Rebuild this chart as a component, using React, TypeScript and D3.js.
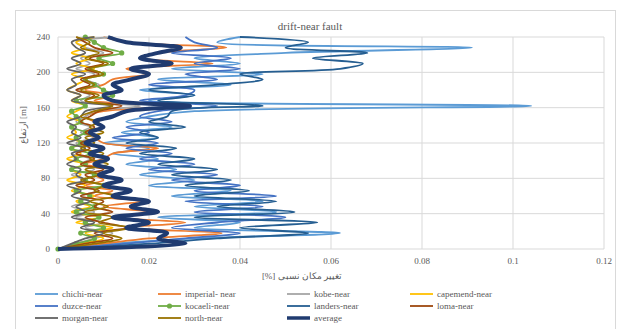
import React from 'react';
import * as d3 from 'd3';

// heights (m), every 6 m
const heights = [0, 6, 12, 18, 24, 30, 36, 42, 48, 54, 60, 66, 72, 78, 84, 90, 96, 102, 108, 114, 120,
  126, 132, 138, 144, 150, 156, 162, 168, 174, 180, 186, 192, 198, 204, 210, 216, 222, 228, 234, 240];

const chichi = [0, 0.012, 0.030, 0.062, 0.030, 0.040, 0.022, 0.048, 0.030, 0.045, 0.025, 0.038, 0.020, 0.030, 0.018, 0.026, 0.015, 0.022, 0.012, 0.020, 0.010,
  0.022, 0.014, 0.025, 0.015, 0.020, 0.030, 0.104, 0.020, 0.030, 0.018, 0.038, 0.022, 0.045, 0.025, 0.040, 0.030, 0.050, 0.091, 0.035, 0.040];
const imperial = [0, 0.010, 0.020, 0.036, 0.015, 0.028, 0.012, 0.020, 0.010, 0.018, 0.008, 0.012, 0.006, 0.010, 0.008, 0.012, 0.006, 0.010, 0.012, 0.022, 0.010,
  0.008, 0.006, 0.010, 0.008, 0.006, 0.010, 0.028, 0.008, 0.012, 0.006, 0.010, 0.012, 0.020, 0.015, 0.034, 0.018, 0.022, 0.037, 0.015, 0.010];
const kobe = [0, 0.004, 0.008, 0.012, 0.006, 0.010, 0.004, 0.008, 0.003, 0.007, 0.005, 0.009, 0.004, 0.006, 0.003, 0.008, 0.005, 0.007, 0.003, 0.006, 0.004,
  0.008, 0.005, 0.007, 0.004, 0.006, 0.008, 0.018, 0.005, 0.007, 0.004, 0.009, 0.006, 0.008, 0.004, 0.007, 0.005, 0.010, 0.006, 0.004, 0.012];
const capemend = [0, 0.005, 0.010, 0.006, 0.012, 0.004, 0.009, 0.003, 0.007, 0.004, 0.008, 0.003, 0.006, 0.002, 0.005, 0.003, 0.006, 0.002, 0.005, 0.003, 0.006,
  0.002, 0.004, 0.003, 0.005, 0.002, 0.004, 0.006, 0.003, 0.005, 0.002, 0.004, 0.006, 0.003, 0.008, 0.004, 0.007, 0.003, 0.006, 0.004, 0.008];
const duzce = [0, 0.015, 0.028, 0.040, 0.025, 0.035, 0.050, 0.030, 0.045, 0.028, 0.048, 0.030, 0.040, 0.025, 0.035, 0.020, 0.030, 0.018, 0.025, 0.015, 0.022,
  0.012, 0.020, 0.015, 0.025, 0.018, 0.022, 0.035, 0.018, 0.028, 0.030, 0.020, 0.035, 0.028, 0.040, 0.030, 0.038, 0.025, 0.035, 0.030, 0.028];
const kocaeli = [0, 0.004, 0.008, 0.005, 0.010, 0.006, 0.009, 0.004, 0.008, 0.005, 0.007, 0.004, 0.010, 0.006, 0.008, 0.003, 0.006, 0.004, 0.007, 0.003, 0.005,
  0.004, 0.006, 0.003, 0.005, 0.004, 0.003, 0.006, 0.004, 0.012, 0.010, 0.008, 0.006, 0.010, 0.007, 0.012, 0.009, 0.014, 0.010, 0.008, 0.006];
const landers = [0, 0.020, 0.035, 0.055, 0.040, 0.057, 0.030, 0.052, 0.035, 0.048, 0.030, 0.042, 0.028, 0.038, 0.025, 0.035, 0.022, 0.030, 0.018, 0.026, 0.015,
  0.022, 0.018, 0.028, 0.020, 0.024, 0.025, 0.045, 0.022, 0.030, 0.020, 0.035, 0.045, 0.040, 0.062, 0.067, 0.056, 0.068, 0.050, 0.055, 0.040];
const loma = [0, 0.006, 0.012, 0.008, 0.015, 0.010, 0.006, 0.012, 0.008, 0.010, 0.005, 0.009, 0.004, 0.008, 0.006, 0.010, 0.005, 0.008, 0.004, 0.007, 0.005,
  0.009, 0.006, 0.008, 0.005, 0.007, 0.009, 0.014, 0.006, 0.008, 0.004, 0.007, 0.005, 0.009, 0.006, 0.010, 0.007, 0.012, 0.008, 0.006, 0.004];
const morgan = [0, 0.003, 0.006, 0.010, 0.005, 0.008, 0.003, 0.006, 0.004, 0.007, 0.003, 0.005, 0.002, 0.006, 0.004, 0.005, 0.002, 0.004, 0.003, 0.006, 0.002,
  0.005, 0.003, 0.004, 0.002, 0.005, 0.006, 0.012, 0.003, 0.005, 0.002, 0.004, 0.003, 0.006, 0.002, 0.005, 0.003, 0.006, 0.004, 0.003, 0.008];
const north = [0, 0.008, 0.014, 0.010, 0.016, 0.009, 0.012, 0.006, 0.011, 0.007, 0.013, 0.008, 0.010, 0.005, 0.009, 0.006, 0.011, 0.007, 0.010, 0.005, 0.008,
  0.006, 0.010, 0.007, 0.009, 0.005, 0.008, 0.012, 0.006, 0.009, 0.005, 0.008, 0.006, 0.010, 0.007, 0.011, 0.006, 0.009, 0.005, 0.007, 0.004];
const average = [0, 0.028, 0.022, 0.024, 0.015, 0.020, 0.012, 0.022, 0.016, 0.020, 0.012, 0.016, 0.010, 0.014, 0.009, 0.012, 0.008, 0.011, 0.007, 0.010, 0.006,
  0.009, 0.007, 0.010, 0.008, 0.012, 0.015, 0.029, 0.012, 0.010, 0.014, 0.012, 0.016, 0.020, 0.016, 0.025, 0.018, 0.022, 0.027, 0.015, 0.011];

const xTicks = [0, 0.02, 0.04, 0.06, 0.08, 0.1, 0.12];
const yTicks = [0, 40, 80, 120, 160, 200, 240];

const series = [
  { name: 'chichi-near', values: chichi, color: '#5B9BD5', w: 1.8 },
  { name: 'imperial- near', values: imperial, color: '#ED7D31', w: 1.8 },
  { name: 'kobe-near', values: kobe, color: '#A5A5A5', w: 1.8 },
  { name: 'capemend-near', values: capemend, color: '#FFC000', w: 1.8 },
  { name: 'duzce-near', values: duzce, color: '#4472C4', w: 1.8 },
  { name: 'kocaeli-near', values: kocaeli, color: '#70AD47', w: 1.8, marker: true },
  { name: 'landers-near', values: landers, color: '#255E91', w: 1.8 },
  { name: 'loma-near', values: loma, color: '#9E480E', w: 1.8 },
  { name: 'morgan-near', values: morgan, color: '#636363', w: 1.8 },
  { name: 'north-near', values: north, color: '#997300', w: 1.8 },
  { name: 'average', values: average, color: '#203B70', w: 4 },
];

const txt = { fontFamily: 'Times New Roman, Liberation Serif, DejaVu Serif, serif', fill: '#595959' };

export default function App() {
  const W = 619, H = 329;
  const x = d3.scaleLinear().domain([0, 0.12]).range([58, 604]);
  const y = d3.scaleLinear().domain([0, 240]).range([249, 37]);

  const line = d3.line<number>()
    .x(d => x(d))
    .y((_, i) => y(heights[i]))
    .curve(d3.curveCatmullRom.alpha(0.5));

  const legendCols = [35, 158, 287, 410];
  const legendRows = [294, 306, 318];

  return (
    <svg width={W} height={H} style={{ position: 'absolute', left: 0, top: 0 }}>
      <rect x={0} y={0} width={W} height={H} fill="#fff" />
      <rect x={15.5} y={10.5} width={600} height={330} fill="#fff" stroke="#D9D9D9" />

      <text x={310} y={30} textAnchor="middle" fontSize={11} style={txt}>drift-near fault</text>

      {/* grid */}
      {yTicks.map(t => (
        <line key={'gy' + t} x1={x(0)} x2={x(0.12)} y1={y(t)} y2={y(t)} stroke="#D9D9D9" strokeWidth={1} />
      ))}
      {xTicks.map(t => (
        <line key={'gx' + t} x1={x(t)} x2={x(t)} y1={y(0)} y2={y(240)} stroke="#D9D9D9" strokeWidth={1} />
      ))}

      {yTicks.map(t => (
        <text key={'ty' + t} x={50} y={y(t) + 3} textAnchor="end" fontSize={9} style={txt}>{t}</text>
      ))}
      {xTicks.map(t => (
        <text key={'tx' + t} x={x(t)} y={264} textAnchor="middle" fontSize={9} style={txt}>{t}</text>
      ))}

      <text transform="translate(26,125) rotate(-90)" textAnchor="middle" fontSize={9} style={txt}>ارتفاع [m]</text>
      <text x={302} y={279} textAnchor="middle" fontSize={9} style={txt} direction="rtl">تغییر مکان نسبی [%]</text>

      {/* series */}
      {series.map(s => (
        <g key={s.name}>
          <path d={line(s.values) || ''} fill="none" stroke={s.color} strokeWidth={s.w} strokeLinejoin="round" />
          {s.marker && s.values.map((v, i) => (
            <circle key={i} cx={x(v)} cy={y(heights[i])} r={2.6} fill={s.color} />
          ))}
        </g>
      ))}

      {/* legend */}
      {series.map((s, i) => {
        const lx = legendCols[i % 4];
        const ly = legendRows[Math.floor(i / 4)];
        return (
          <g key={'lg' + s.name}>
            <line x1={lx} x2={lx + 23} y1={ly} y2={ly} stroke={s.color} strokeWidth={s.w === 4 ? 3.5 : 1.8} />
            {s.marker && <circle cx={lx + 11.5} cy={ly} r={2.6} fill={s.color} />}
            <text x={lx + 27} y={ly + 3} fontSize={9} style={txt}>{s.name}</text>
          </g>
        );
      })}
    </svg>
  );
}
